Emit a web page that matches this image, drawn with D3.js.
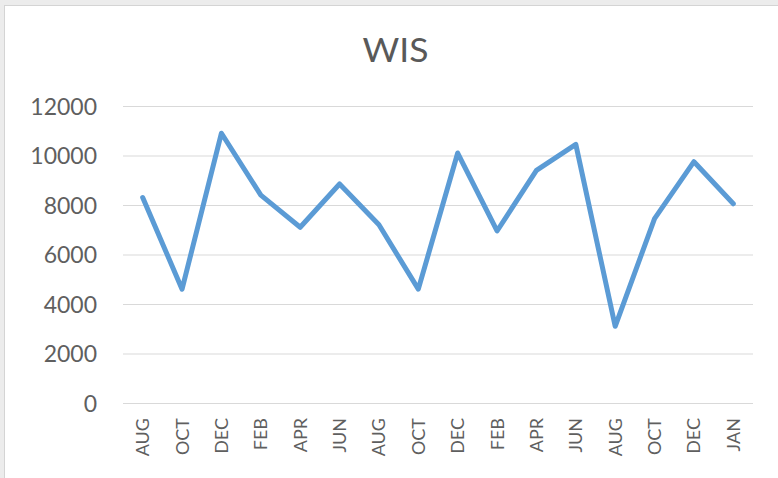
<!DOCTYPE html>
<html><head><meta charset="utf-8">
<script src="https://cdn.jsdelivr.net/npm/d3@7"></script>
<style>
html,body{margin:0;padding:0;background:#ececec;}
svg{display:block;}
</style></head>
<body>
<svg id="chart" width="778" height="478"></svg>
<script>
const categories = ["AUG","OCT","DEC","FEB","APR","JUN","AUG","OCT","DEC","FEB","APR","JUN","AUG","OCT","DEC","JAN"];
const values = [8300,4600,10900,8400,7100,8850,7200,4600,10100,6950,9400,10450,3100,7450,9750,8050];
const yTicks = [0,2000,4000,6000,8000,10000,12000];
const title = "WIS";

const svg = d3.select("#chart");
const W = 778, H = 478;
const font = "Lato, 'Open Sans', sans-serif";

svg.append("rect").attr("x",4.5).attr("y",5.5).attr("width",W-4).attr("height",H-5)
  .attr("fill","#ffffff").attr("stroke","#d4d4d4").attr("stroke-width",1);

const m = {left:123, right:753, top:106, bottom:403};
const ids = categories.map((c,i)=>i);
const x = d3.scaleBand().domain(ids).range([m.left,m.right]);
const y = d3.scaleLinear().domain([0,12000]).range([m.bottom,m.top]);

svg.append("text").attr("x",395.5).attr("y",61.5).attr("text-anchor","middle")
  .attr("font-family",font).attr("font-size",32).attr("fill","#595959")
  .attr("textLength",66).attr("lengthAdjust","spacingAndGlyphs").text(title);

const yAxis = d3.axisLeft(y).tickValues(yTicks).tickSize(-(m.right-m.left)).tickPadding(26).tickFormat(d3.format("d"));
const gy = svg.append("g").attr("transform",`translate(${m.left},0)`).call(yAxis);
gy.select(".domain").remove();
gy.selectAll(".tick line").attr("stroke","#d9d9d9").attr("stroke-width",1);
gy.selectAll(".tick text").attr("font-family",font).attr("font-size",23).attr("fill","#5f5f5f")
  .attr("dy","0.36em");

const xAxis = d3.axisBottom(x).tickFormat(i=>categories[i]).tickSize(0).tickPadding(0);
const gx = svg.append("g").attr("transform",`translate(0,${m.bottom})`).call(xAxis);
gx.select(".domain").remove();
gx.selectAll(".tick text")
  .attr("font-family",font).attr("font-size",18).attr("fill","#5f5f5f")
  .attr("text-anchor","end").attr("dy",null).attr("y",null)
  .attr("transform","translate(6.5,15) rotate(-90)");

const line = d3.line().x((d,i)=>x(i)+x.bandwidth()/2).y(d=>y(d));
svg.append("path").datum(values).attr("d",line)
  .attr("fill","none").attr("stroke","#5b9bd5").attr("stroke-width",5)
  .attr("stroke-linejoin","round").attr("stroke-linecap","round");
</script>
</body></html>
